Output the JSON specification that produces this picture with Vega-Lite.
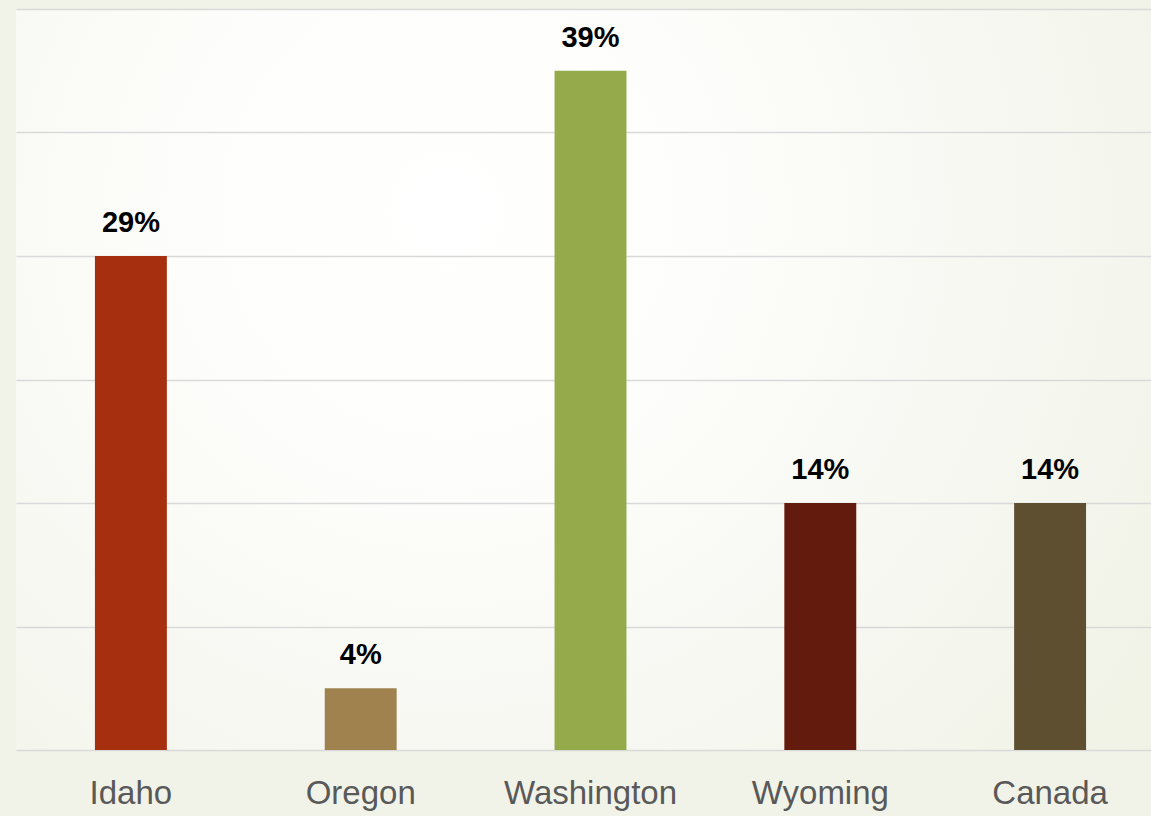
{
  "$schema": "https://vega.github.io/schema/vega-lite/v6.json",
  "autosize": "none",
  "padding": {"left": 16, "top": 9, "right": 0, "bottom": 66},
  "width": 1135,
  "height": 741,
  "background": "#F1F3E8",
  "config": {
    "view": {
      "stroke": null,
      "fill": {
        "gradient": "radial",
        "x1": 0.38, "y1": 0.35, "r1": 0,
        "x2": 0.38, "y2": 0.35, "r2": 0.95,
        "stops": [
          {"offset": 0, "color": "#FFFFFF"},
          {"offset": 0.25, "color": "#FDFDFB"},
          {"offset": 0.55, "color": "#F6F7F0"},
          {"offset": 1, "color": "#ECEFDF"}
        ]
      }
    }
  },
  "data": {
    "values": [
      {"region": "Idaho", "count": 8, "label": "29%"},
      {"region": "Oregon", "count": 1, "label": "4%"},
      {"region": "Washington", "count": 11, "label": "39%"},
      {"region": "Wyoming", "count": 4, "label": "14%"},
      {"region": "Canada", "count": 4, "label": "14%"}
    ]
  },
  "encoding": {
    "x": {
      "field": "region",
      "type": "nominal",
      "sort": null,
      "scale": {"range": [0, 1149], "paddingInner": 0.687, "paddingOuter": 0.3435},
      "axis": {
        "title": null,
        "domain": false,
        "ticks": false,
        "labelAngle": 0,
        "labelFont": "Liberation Sans",
        "labelFontSize": 33,
        "labelColor": "#595959",
        "labelBaseline": "alphabetic",
        "labelPadding": 53
      }
    },
    "y": {
      "field": "count",
      "type": "quantitative",
      "scale": {"domain": [0, 12], "nice": false},
      "axis": {
        "title": null,
        "domain": false,
        "ticks": false,
        "labels": false,
        "values": [0, 2, 4, 6, 8, 10, 12],
        "grid": true,
        "gridColor": "#D9D9D9",
        "gridWidth": 1.5
      }
    }
  },
  "layer": [
    {
      "mark": {"type": "bar"},
      "encoding": {
        "color": {
          "field": "region",
          "type": "nominal",
          "scale": {
            "domain": ["Idaho", "Oregon", "Washington", "Wyoming", "Canada"],
            "range": ["#A62F0F", "#A0824F", "#94AA4B", "#621B0C", "#5E4F30"]
          },
          "legend": null
        }
      }
    },
    {
      "mark": {
        "type": "text",
        "font": "Liberation Sans",
        "fontSize": 29,
        "fontWeight": "bold",
        "color": "#000000",
        "baseline": "alphabetic",
        "dy": -24
      },
      "encoding": {
        "text": {"field": "label"}
      }
    }
  ]
}
